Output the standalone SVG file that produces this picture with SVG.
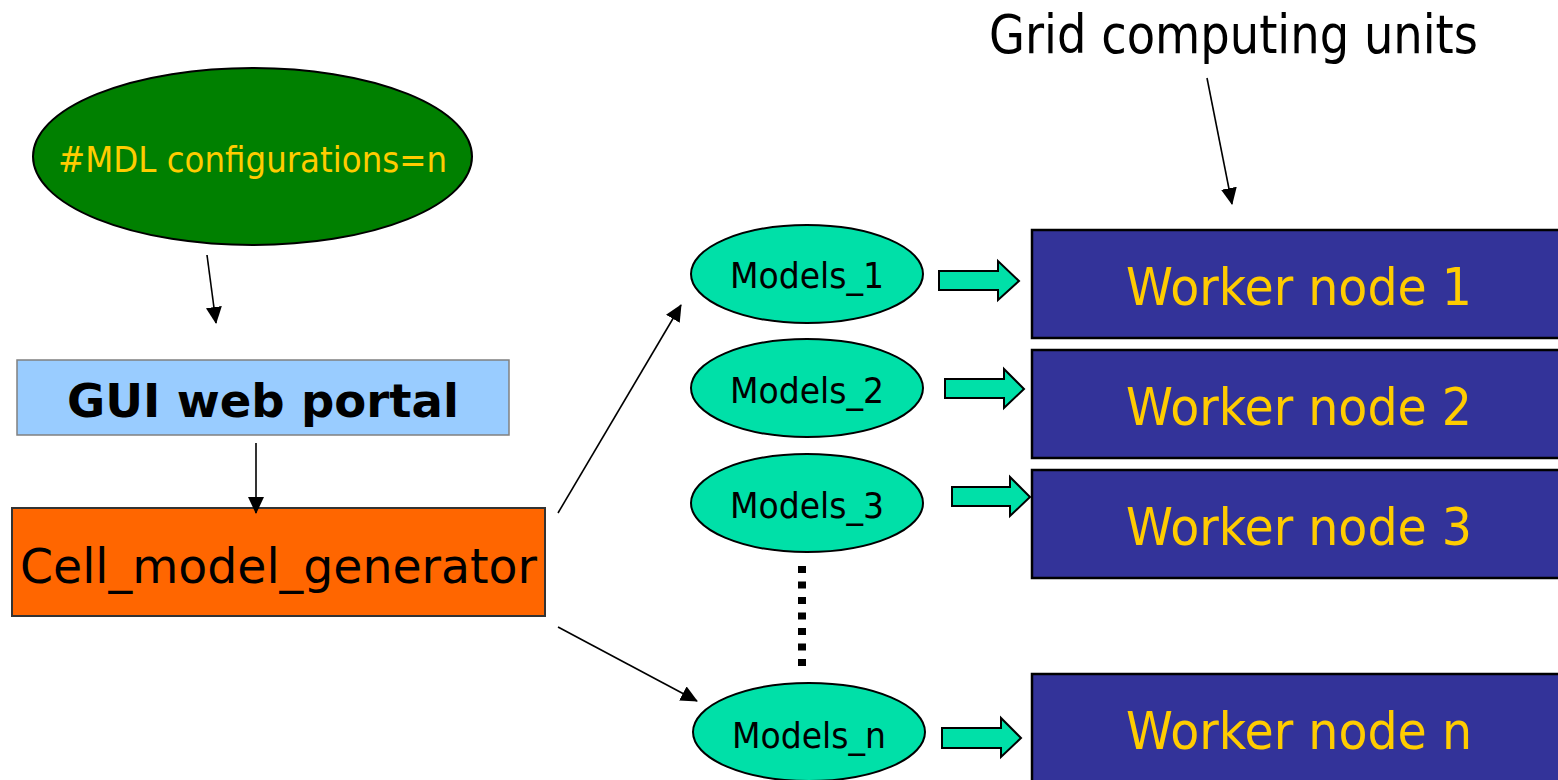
<svg xmlns="http://www.w3.org/2000/svg" width="1558" height="780" viewBox="0 0 1558 780">
<defs>
<marker id="ah" markerUnits="userSpaceOnUse" markerWidth="18" markerHeight="18" refX="16" refY="8" orient="auto">
<path d="M0,0 L17,8 L0,16 Z" fill="#000"/>
</marker>
</defs>
<style>
.t{font-family:"DejaVu Sans",sans-serif}
.model{fill:#00E0A8;stroke:#000;stroke-width:2}
.mt{font-size:35px;fill:#000;text-anchor:middle}
.worker{fill:#333399;stroke:#000;stroke-width:2.5}
.wt{font-size:52px;fill:#FFCC00}
.ln{stroke:#000;stroke-width:1.6;fill:none;marker-end:url(#ah)}
.blk{fill:#00E0A8;stroke:#000;stroke-width:2}
</style>
<rect width="1558" height="780" fill="#fff"/>

<text id="grid-label" class="t" x="989" y="53" font-size="53" fill="#000" textLength="489" lengthAdjust="spacingAndGlyphs">Grid computing units</text>

<g id="mdl">
<ellipse cx="252.5" cy="156.5" rx="219.5" ry="88.5" fill="#008000" stroke="#000" stroke-width="2"/>
<text class="t" x="58" y="172" font-size="35" fill="#FFCC00" textLength="389" lengthAdjust="spacingAndGlyphs">#MDL configurations=n</text>
</g>

<g id="gui">
<rect x="17" y="360" width="492" height="75" fill="#99CCFF" stroke="#808080" stroke-width="1.5"/>
<text x="67" y="417" font-family="'DejaVu Sans',sans-serif" font-weight="bold" font-size="47" fill="#000" textLength="392" lengthAdjust="spacingAndGlyphs">GUI web portal</text>
</g>

<g id="generator">
<rect x="12" y="508" width="533" height="108" fill="#FF6600" stroke="#333" stroke-width="2"/>
<text class="t" x="20" y="583" font-size="48" fill="#000" textLength="517" lengthAdjust="spacingAndGlyphs">Cell_model_generator</text>
</g>

<g id="models1"><ellipse class="model" cx="807" cy="274" rx="116" ry="49"/><text class="t mt" x="807" y="288" textLength="154" lengthAdjust="spacingAndGlyphs">Models_1</text></g>
<g id="models2"><ellipse class="model" cx="807" cy="388" rx="116" ry="49"/><text class="t mt" x="807" y="403" textLength="154" lengthAdjust="spacingAndGlyphs">Models_2</text></g>
<g id="models3"><ellipse class="model" cx="807" cy="503" rx="116" ry="49"/><text class="t mt" x="807" y="518" textLength="154" lengthAdjust="spacingAndGlyphs">Models_3</text></g>
<g id="modelsn"><ellipse class="model" cx="809" cy="732" rx="116" ry="49"/><text class="t mt" x="809" y="748" textLength="154" lengthAdjust="spacingAndGlyphs">Models_n</text></g>

<g id="worker1"><rect class="worker" x="1032" y="230" width="540" height="108"/><text class="t wt" x="1126" y="305" textLength="346" lengthAdjust="spacingAndGlyphs">Worker node 1</text></g>
<g id="worker2"><rect class="worker" x="1032" y="350" width="540" height="108"/><text class="t wt" x="1126" y="425" textLength="346" lengthAdjust="spacingAndGlyphs">Worker node 2</text></g>
<g id="worker3"><rect class="worker" x="1032" y="470" width="540" height="108"/><text class="t wt" x="1126" y="545" textLength="346" lengthAdjust="spacingAndGlyphs">Worker node 3</text></g>
<g id="workern"><rect class="worker" x="1032" y="674" width="540" height="120"/><text class="t wt" x="1126" y="749" textLength="346" lengthAdjust="spacingAndGlyphs">Worker node n</text></g>

<g id="connectors">
<line class="ln" x1="1207" y1="78" x2="1232" y2="204"/>
<line class="ln" x1="207" y1="255" x2="216" y2="323"/>
<line class="ln" x1="256" y1="443" x2="256" y2="513"/>
<line class="ln" x1="558" y1="513" x2="681" y2="305"/>
<line class="ln" x1="558" y1="627" x2="697" y2="701"/>
<line x1="802" y1="566" x2="802" y2="666" stroke="#000" stroke-width="8" stroke-dasharray="7 8.5"/>
<path class="blk" d="M939,271 H998 V261 L1019,281 L998,300 V290 H939 Z"/>
<path class="blk" d="M945,379 H1004 V369 L1024,389 L1004,408 V398 H945 Z"/>
<path class="blk" d="M952,487 H1010 V477 L1030,497 L1010,516 V506 H952 Z"/>
<path class="blk" d="M942,728 H1001 V718 L1021,738 L1001,757 V748 H942 Z"/>
</g>
</svg>
